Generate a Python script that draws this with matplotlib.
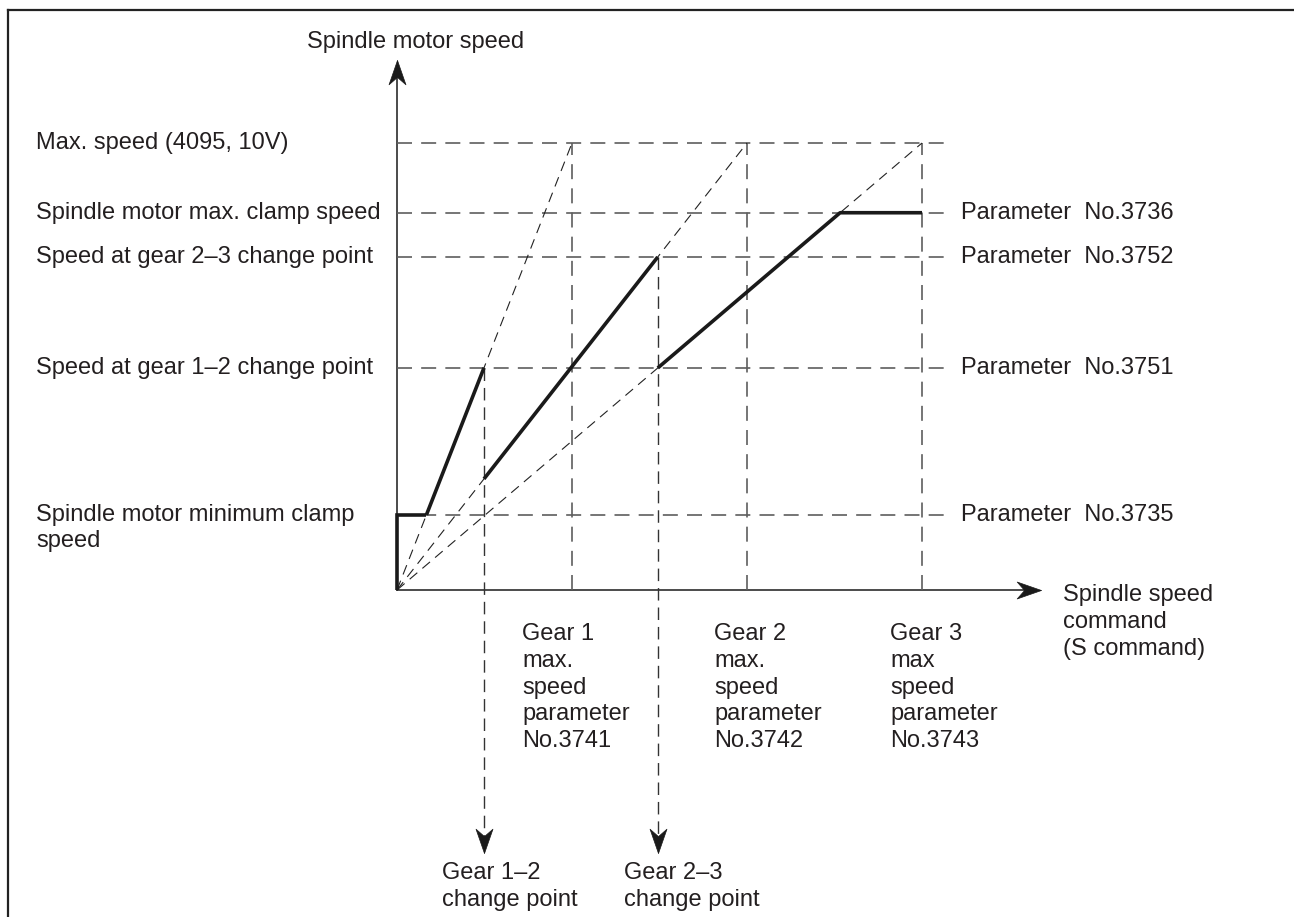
import matplotlib.pyplot as plt
from matplotlib.lines import Line2D

plt.rcParams['font.family'] = ['Liberation Sans', 'DejaVu Sans']

W, H = 1294, 917

# S command (arbitrary units) where each gear reaches max speed (10 V)
gear_max = [1000, 2000, 3000]
gear_text = ['Gear 1\nmax.\nspeed\nparameter\nNo.3741',
             'Gear 2\nmax.\nspeed\nparameter\nNo.3742',
             'Gear 3\nmax\nspeed\nparameter\nNo.3743']
v_max = 10.0
# motor speed levels in volts
levels = [10.0, 8.44, 7.45, 4.97, 1.68]
left_labels = ['Max. speed (4095, 10V)',
               'Spindle motor max. clamp speed',
               'Speed at gear 2\u20133 change point',
               'Speed at gear 1\u20132 change point',
               'Spindle motor minimum clamp']
right_labels = ['', 'Parameter  No.3736', 'Parameter  No.3752',
                'Parameter  No.3751', 'Parameter  No.3735']
v_clamp_max, v_gear23, v_gear12, v_clamp_min = levels[1:]
# S command at the gear change points
change_points = [497, 1490]
change_labels = ['Gear 1\u20132\nchange point', 'Gear 2\u20133\nchange point']

fig = plt.figure(figsize=(W / 100, H / 100), dpi=100)
# origin of the diagram at pixel (397, 590), 175 px per 1000, 44.7 px per volt
ax = fig.add_axes([397 / W, (H - 590) / H, 525 / W, 447 / H])
ax.set_xlim(0, 3000)
ax.set_ylim(0, 10)
ax.axis('off')


def px(x):
    return (x - 397) / 175 * 1000


def py(y):
    return (590 - y) / 44.7


def fp(x, y):
    return x / W, 1 - y / H


txt = dict(fontsize=17, color='#231f20')
grid = dict(color='#5e5e5e', lw=1.2, ls=(0, (9, 5.5)), clip_on=False)
thin = dict(color='#222222', lw=0.8, ls=(0, (9, 6)), clip_on=False)
bold = dict(color='#1a1a1a', lw=2.6, clip_on=False, solid_capstyle='butt')
ink = '#1a1a1a'

# concave arrow heads, tip at the data point
head_up = [(0, 0), (8, -23), (0, -16), (-8, -23), (0, 0)]
head_down = [(x, -y) for x, y in head_up]
head_right = [(y, x) for x, y in head_up]
head = dict(ms=35, color=ink, mec=ink, mew=0.5, clip_on=False, ls='none')

# frame (only top and left sides visible)
fig.add_artist(Line2D([8 / W, 1], [1 - 10 / H] * 2, color='#222', lw=1.6))
fig.add_artist(Line2D([8 / W] * 2, [1 - 10 / H, 0], color='#222', lw=1.6))

# axes with arrows
ax.plot([0, 0], [0, py(70)], color=ink, lw=1.1, clip_on=False)
ax.plot([0], [py(60)], marker=head_up, **head)
ax.plot([0, px(1030)], [0, 0], color=ink, lw=1.1, clip_on=False)
ax.plot([px(1041)], [0], marker=head_right, **head)

# horizontal level lines
for v in levels:
    ax.plot([0, px(950)], [v, v], **grid)

# vertical lines at gear max
for g in gear_max:
    ax.plot([g, g], [0, v_max], **grid)

# gear lines from the origin
for g in gear_max:
    ax.plot([0, g], [0, v_max], **thin)

# change point lines with downward arrows
for cp, v in zip(change_points, [v_gear12, v_gear23]):
    ax.plot([cp, cp], [v, py(840)], color='#333', lw=1.0, ls=(0, (9, 5)),
            clip_on=False)
    ax.plot([cp], [py(853)], marker=head_down, **head)

# actual motor speed curve
g1, g2, g3 = gear_max
cp1, cp2 = change_points
x_min = v_clamp_min / v_max * g1
x_clamp = v_clamp_max / v_max * g3
ax.plot([0, 0, x_min], [0, v_clamp_min, v_clamp_min], solid_joinstyle='miter', **bold)
ax.plot([x_min, cp1], [v_clamp_min, cp1 / g1 * v_max], **bold)
ax.plot([cp1, cp2], [cp1 / g2 * v_max, cp2 / g2 * v_max], **bold)
ax.plot([cp2, x_clamp, g3], [cp2 / g3 * v_max, v_clamp_max, v_clamp_max], **bold)

# texts
fig.text(*fp(307, 42), 'Spindle motor speed', va='center', **txt)
fig.text(*fp(1063, 584), 'Spindle speed\ncommand\n(S command)', va='top',
         linespacing=1.28, **txt)

for v, lab in zip(levels, left_labels):
    ax.text(px(36), v, lab, va='center', ha='left', **txt)
fig.text(*fp(36, 541), 'speed', va='center', ha='left', **txt)
for v, lab in zip(levels, right_labels):
    if lab:
        ax.text(px(961), v, lab, va='center', ha='left', **txt)

for x, lab in zip([522, 714, 890], gear_text):
    fig.text(*fp(x, 623), lab, va='top', ha='left', linespacing=1.28, **txt)

for x, lab in zip([442, 624], change_labels):
    fig.text(*fp(x, 862), lab, va='top', ha='left', linespacing=1.3, **txt)

fig.savefig('out.png', dpi=100)
